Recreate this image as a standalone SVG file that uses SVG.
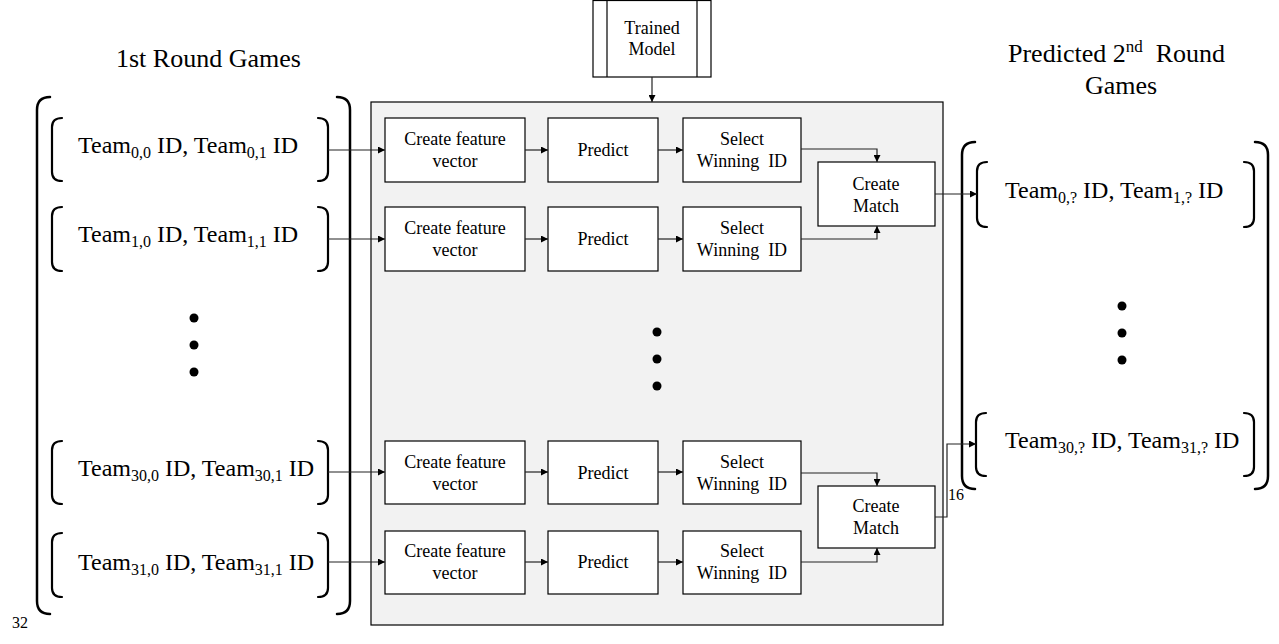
<svg xmlns="http://www.w3.org/2000/svg" width="1279" height="644" viewBox="0 0 1279 644">
<defs>
<marker id="ah" viewBox="0 0 10 10" refX="10" refY="5" markerWidth="7" markerHeight="7" markerUnits="userSpaceOnUse" orient="auto">
<path d="M0,0 L10,5 L0,10 z" fill="#000"/>
</marker>
<style>
text{font-family:"Liberation Serif","Times New Roman",serif;fill:#000}
.box{fill:#fff;stroke:#000;stroke-width:1.2}
.bt{font-size:18px;text-anchor:middle}
.team{font-size:24px}
.sub{font-size:16px}
.title{font-size:26px}
.brk{fill:none;stroke:#000;stroke-width:2.5;stroke-linecap:round}
.ibrk{fill:none;stroke:#000;stroke-width:2.2;stroke-linecap:round}
.con{fill:none;stroke:#222;stroke-width:1.2}
.arr{marker-end:url(#ah)}
</style>
</defs>
<rect width="1279" height="644" fill="#fff"/>

<g id="titles">
<text class="title" x="116" y="67">1st Round Games</text>
<text class="title" x="1008" y="62" xml:space="preserve">Predicted 2<tspan font-size="17" dy="-10">nd</tspan><tspan dy="10">  Round</tspan></text>
<text class="title" x="1121" y="94" text-anchor="middle">Games</text>
</g>

<g id="main-panel">
<rect x="371" y="102" width="572" height="523" fill="#f2f2f2" stroke="#000" stroke-width="1.2"/>
</g>

<g id="trained-model">
<rect class="box" x="593" y="0.5" width="118" height="76.5"/>
<line x1="607" y1="0.5" x2="607" y2="77" stroke="#000" stroke-width="1.2"/>
<line x1="697" y1="0.5" x2="697" y2="77" stroke="#000" stroke-width="1.2"/>
<text class="bt" x="652" y="34" font-size="17">Trained</text>
<text class="bt" x="652" y="55" font-size="17">Model</text>
</g>

<g id="left-brackets">
<path class="brk" d="M50,97 Q37,97 37,110 V601 Q37,614 50,614"/>
<path class="brk" d="M337,97 Q350,97 350,110 V601 Q350,614 337,614"/>
<path class="ibrk" d="M62,118 Q52,118 52,127 V172 Q52,181 62,181"/>
<path class="ibrk" d="M318,118 Q328,118 328,127 V172 Q328,181 318,181"/>
<path class="ibrk" d="M62,207 Q52,207 52,216 V262 Q52,271 62,271"/>
<path class="ibrk" d="M318,207 Q328,207 328,216 V262 Q328,271 318,271"/>
<path class="ibrk" d="M62,441 Q52,441 52,450 V495 Q52,504 62,504"/>
<path class="ibrk" d="M318,441 Q328,441 328,450 V495 Q328,504 318,504"/>
<path class="ibrk" d="M62,533 Q52,533 52,542 V588 Q52,597 62,597"/>
<path class="ibrk" d="M318,533 Q328,533 328,542 V588 Q328,597 318,597"/>
</g>

<g id="left-texts">
<text class="team" x="78" y="153">Team<tspan class="sub" dy="5">0,0</tspan><tspan dy="-5"> ID, Team</tspan><tspan class="sub" dy="5">0,1</tspan><tspan dy="-5"> ID</tspan></text>
<text class="team" x="78" y="242">Team<tspan class="sub" dy="5">1,0</tspan><tspan dy="-5"> ID, Team</tspan><tspan class="sub" dy="5">1,1</tspan><tspan dy="-5"> ID</tspan></text>
<text class="team" x="78" y="476">Team<tspan class="sub" dy="5">30,0</tspan><tspan dy="-5"> ID, Team</tspan><tspan class="sub" dy="5">30,1</tspan><tspan dy="-5"> ID</tspan></text>
<text class="team" x="78" y="570">Team<tspan class="sub" dy="5">31,0</tspan><tspan dy="-5"> ID, Team</tspan><tspan class="sub" dy="5">31,1</tspan><tspan dy="-5"> ID</tspan></text>
<text x="12" y="628" font-size="16">32</text>
</g>

<g id="dots">
<circle cx="194" cy="318" r="4.5"/>
<circle cx="194" cy="345" r="4.5"/>
<circle cx="194" cy="372" r="4.5"/>
<circle cx="657" cy="332" r="4.5"/>
<circle cx="657" cy="359" r="4.5"/>
<circle cx="657" cy="386" r="4.5"/>
<circle cx="1122" cy="306" r="4.5"/>
<circle cx="1122" cy="333" r="4.5"/>
<circle cx="1122" cy="360" r="4.5"/>
</g>

<g id="row1">
<rect class="box" x="385" y="118" width="140" height="64"/>
<text class="bt" x="455" y="145">Create feature</text>
<text class="bt" x="455" y="167">vector</text>
<rect class="box" x="548" y="118" width="110" height="64"/>
<text class="bt" x="603" y="156">Predict</text>
<rect class="box" x="683" y="118" width="118" height="64"/>
<text class="bt" x="742" y="145">Select</text>
<text class="bt" x="742" y="167" xml:space="preserve">Winning  ID</text>
</g>

<g id="row2">
<rect class="box" x="385" y="207" width="140" height="64"/>
<text class="bt" x="455" y="234">Create feature</text>
<text class="bt" x="455" y="256">vector</text>
<rect class="box" x="548" y="207" width="110" height="64"/>
<text class="bt" x="603" y="245">Predict</text>
<rect class="box" x="683" y="207" width="118" height="64"/>
<text class="bt" x="742" y="234">Select</text>
<text class="bt" x="742" y="256" xml:space="preserve">Winning  ID</text>
</g>

<g id="match1">
<rect class="box" x="818" y="162" width="117" height="64"/>
<text class="bt" x="876" y="190">Create</text>
<text class="bt" x="876" y="212">Match</text>
</g>

<g id="row3">
<rect class="box" x="385" y="441" width="140" height="63"/>
<text class="bt" x="455" y="468">Create feature</text>
<text class="bt" x="455" y="490">vector</text>
<rect class="box" x="548" y="441" width="110" height="63"/>
<text class="bt" x="603" y="479">Predict</text>
<rect class="box" x="683" y="441" width="118" height="63"/>
<text class="bt" x="742" y="468">Select</text>
<text class="bt" x="742" y="490" xml:space="preserve">Winning  ID</text>
</g>

<g id="row4">
<rect class="box" x="385" y="531" width="140" height="63"/>
<text class="bt" x="455" y="557">Create feature</text>
<text class="bt" x="455" y="579">vector</text>
<rect class="box" x="548" y="531" width="110" height="63"/>
<text class="bt" x="603" y="568">Predict</text>
<rect class="box" x="683" y="531" width="118" height="63"/>
<text class="bt" x="742" y="557">Select</text>
<text class="bt" x="742" y="579" xml:space="preserve">Winning  ID</text>
</g>

<g id="match2">
<rect class="box" x="818" y="486" width="117" height="62"/>
<text class="bt" x="876" y="512">Create</text>
<text class="bt" x="876" y="534">Match</text>
</g>

<g id="right-brackets">
<path class="brk" d="M975,142 Q962,142 962,155 V476 Q962,489 975,489"/>
<path class="brk" d="M1255,142 Q1268,142 1268,155 V476 Q1268,489 1255,489"/>
<path class="ibrk" d="M987,162 Q977,162 977,171 V218 Q977,227 987,227"/>
<path class="ibrk" d="M1244,162 Q1254,162 1254,171 V218 Q1254,227 1244,227"/>
<path class="ibrk" d="M986,413 Q976,413 976,422 V467 Q976,476 986,476"/>
<path class="ibrk" d="M1244,413 Q1254,413 1254,422 V467 Q1254,476 1244,476"/>
</g>

<g id="right-texts">
<text class="team" x="1005" y="198">Team<tspan class="sub" dy="5">0,?</tspan><tspan dy="-5"> ID, Team</tspan><tspan class="sub" dy="5">1,?</tspan><tspan dy="-5"> ID</tspan></text>
<text class="team" x="1005" y="448">Team<tspan class="sub" dy="5">30,?</tspan><tspan dy="-5"> ID, Team</tspan><tspan class="sub" dy="5">31,?</tspan><tspan dy="-5"> ID</tspan></text>
<text x="948" y="500" font-size="16">16</text>
</g>

<g id="connectors">
<line class="con arr" x1="652" y1="77" x2="652" y2="102"/>
<line class="con arr" x1="328" y1="150" x2="385" y2="150"/>
<line class="con arr" x1="328" y1="239" x2="385" y2="239"/>
<line class="con arr" x1="328" y1="472" x2="385" y2="472"/>
<line class="con arr" x1="328" y1="562" x2="385" y2="562"/>
<line class="con arr" x1="525" y1="150" x2="548" y2="150"/>
<line class="con arr" x1="525" y1="239" x2="548" y2="239"/>
<line class="con arr" x1="525" y1="472" x2="548" y2="472"/>
<line class="con arr" x1="525" y1="562" x2="548" y2="562"/>
<line class="con arr" x1="658" y1="150" x2="683" y2="150"/>
<line class="con arr" x1="658" y1="239" x2="683" y2="239"/>
<line class="con arr" x1="658" y1="472" x2="683" y2="472"/>
<line class="con arr" x1="658" y1="562" x2="683" y2="562"/>
<path class="con arr" d="M801,149 H877 V162"/>
<path class="con arr" d="M801,239 H877 V226"/>
<path class="con arr" d="M801,473 H877 V486"/>
<path class="con arr" d="M801,562 H877 V548"/>
<line class="con arr" x1="935" y1="194" x2="977" y2="194"/>
<path class="con arr" d="M935,517 H947 V444 H976"/>
</g>
</svg>
